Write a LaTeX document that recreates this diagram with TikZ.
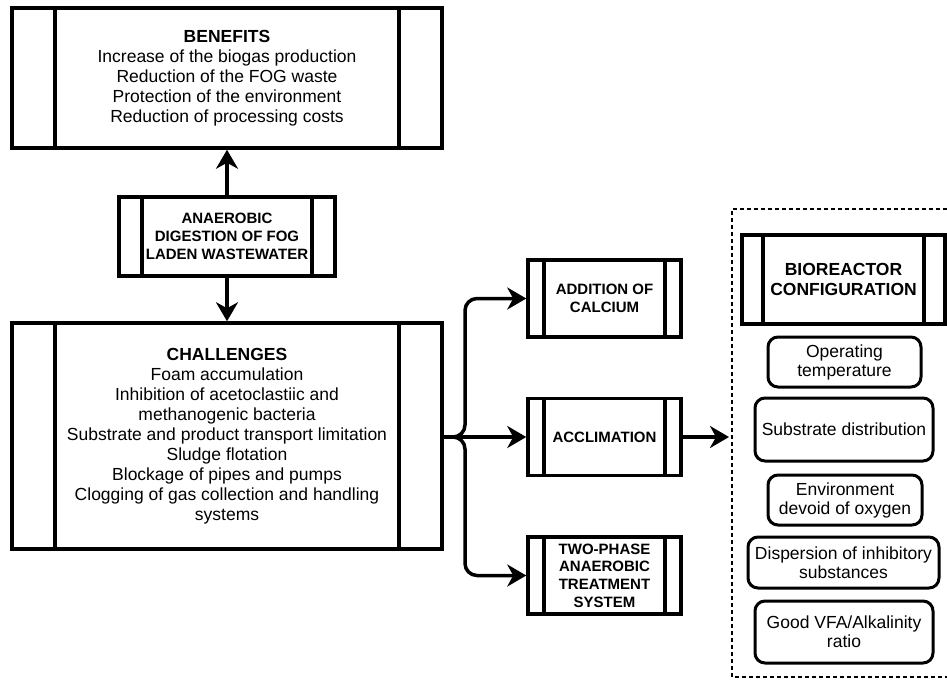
\documentclass[tikz,border=0pt]{standalone}
\usepackage{fontspec}
\setmainfont{Liberation Sans}
\usetikzlibrary{arrows.meta,calc}
\tikzset{
  procbox/.style={draw, line width=3.5pt, inner sep=0pt, align=center,
    path picture={
      \draw[line width=3.5pt] ([xshift=#1]path picture bounding box.north west) -- ([xshift=#1]path picture bounding box.south west);
      \draw[line width=3.5pt] ([xshift=-#1]path picture bounding box.north east) -- ([xshift=-#1]path picture bounding box.south east);
    }},
  factor/.style={draw, line width=3pt, rounded corners=10pt, inner sep=0pt, align=center,
    font=\fontsize{17.5}{19}\selectfont},
  bigtxt/.style={font=\fontsize{17.5}{20}\selectfont},
  smalltxt/.style={font=\fontsize{15}{17.7}\selectfont\bfseries},
  arr/.style={line width=3.5pt, -{Stealth[length=19pt,width=22pt,inset=6pt]}}
}
\begin{document}
\begin{tikzpicture}[x=1pt, y=-1pt]
    \useasboundingbox (0,0) rectangle (947,689);

    % Main column
    \node[procbox=43pt, bigtxt, minimum width=430pt, minimum height=140pt] (benefits) at (227,78)
      {\textbf{BENEFITS}\\Increase of the biogas production\\Reduction of the FOG waste\\Protection of the environment\\Reduction of processing costs};
    \node[procbox=23pt, smalltxt, minimum width=216pt, minimum height=79pt] (digestion) at (227,236.5)
      {ANAEROBIC\\DIGESTION OF FOG\\LADEN WASTEWATER};
    \node[procbox=43pt, bigtxt, minimum width=430pt, minimum height=226pt] (challenges) at (227,436)
      {\textbf{CHALLENGES}\\Foam accumulation\\Inhibition of acetoclastiic and\\methanogenic bacteria\\Substrate and product transport limitation\\Sludge flotation\\Blockage of pipes and pumps\\Clogging of gas collection and handling\\systems};

    % Solutions
    \node[procbox=16pt, smalltxt, minimum width=153pt, minimum height=77pt] (calcium) at (604.5,298.5)
      {ADDITION OF\\CALCIUM};
    \node[procbox=16pt, smalltxt, minimum width=153pt, minimum height=77pt] (acclim) at (604.5,437)
      {ACCLIMATION};
    \node[procbox=16pt, smalltxt, minimum width=153pt, minimum height=77pt] (twophase) at (604.5,575.5)
      {TWO-PHASE\\ANAEROBIC\\TREATMENT\\SYSTEM};

    % Bioreactor configuration
    \draw[line width=1.5pt, dash pattern=on 4pt off 3pt] (947,209) -- (732,209) -- (732,677) -- (947,677);
    \node[procbox=21pt, bigtxt, font=\fontsize{17.5}{20}\selectfont\bfseries, minimum width=203pt, minimum height=89pt] (bioreactor) at (843.5,279.5)
      {BIOREACTOR\\CONFIGURATION};
    \node[factor, minimum width=153pt, minimum height=50pt] (temp) at (844.5,362) {Operating\\temperature};
    \node[factor, minimum width=178pt, minimum height=63pt] (distrib) at (844,429.5) {Substrate distribution};
    \node[factor, minimum width=154pt, minimum height=50pt] (oxygen) at (845,500) {Environment\\devoid of oxygen};
    \node[factor, minimum width=191pt, minimum height=51pt] (inhib) at (843.5,562.5) {Dispersion of inhibitory\\substances};
    \node[factor, minimum width=178pt, minimum height=62pt] (vfa) at (844,632) {Good VFA/Alkalinity\\ratio};

    % Arrows
    \coordinate (fork) at (465,437);
    \coordinate (config) at (729,437);
    \draw[arr] (digestion) -- (benefits);
    \draw[arr] (digestion) -- (challenges);
    \draw[arr] (challenges.east |- acclim.west) -- (acclim.west);
    \draw[arr, rounded corners=12pt] (challenges.east |- acclim.west) -- (fork) |- (calcium.west);
    \draw[arr, rounded corners=12pt] (challenges.east |- acclim.west) -- (fork) |- (twophase.west);
    \draw[arr] (acclim.east) -- (config);
\end{tikzpicture}
\end{document}
